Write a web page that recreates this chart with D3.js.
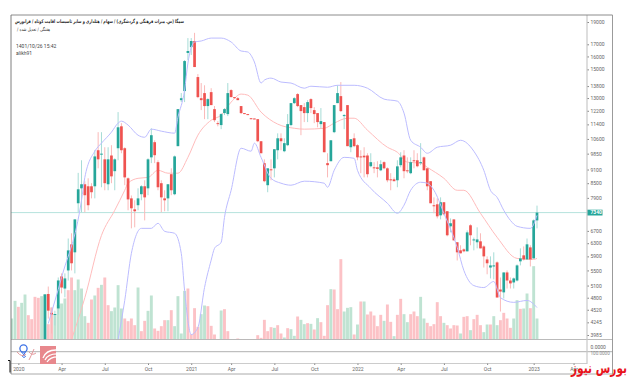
<!DOCTYPE html>
<html>
<head>
<meta charset="utf-8">
<style>
  html, body { margin: 0; padding: 0; background: #fff; }
  svg { display: block; }
  text { font-family: Roboto, sans-serif; }
</style>
<script src="https://cdn.jsdelivr.net/npm/d3@7/dist/d3.min.js"></script>
</head>
<body>
<div id="chart"></div>
<script>
// weekly candles, first visible candle is week 10
const firstCandleWeek = 10;
const opens = [3780,4890,4450,4405,4550,5340,5025,5500,6265,6020,
  7690,8285,8455,8370,8370,8370,10020,9800,9575,8455,
  9760,9025,10120,11290,10120,8710,7880,7460,7615,8045,
  8370,8285,9670,10430,9440,8500,7880,7880,8890,8045,
  10225,12865,13460,16280,16760,17280,14435,12990,13325,12490,
  13390,12300,11470,11360,12060,12000,13525,13060,12990,12490,
  12060,12000,11755,11740,11700,10480,9395,8415,9110,9155,
  10020,10635,9970,10275,11360,12675,13260,12550,12425,12060,
  12930,12240,12060,11415,11530,9395,9485,10965,12675,13125,
  11880,12550,10170,10635,10275,9715,9750,9760,9250,9200,
  9200,9065,9440,9155,8665,8665,8625,9300,9760,9065,
  8935,9530,9530,9395,9670,9155,8585,7615,7650,7240,
  7730,7390,6855,7095,6330,6080,6110,6050,6890,6390,
  6330,6360,6200,5810,5580,5610,5725,5000,4930,5445,
  5230,5180,5230,5755,5930,5810,6170,5840,7060];
const closes = [4880,4500,4415,4425,5232,5050,5285,6078,5700,7095,
  8245,8455,8005,7615,8125,9715,9575,9850,8500,9575,
  8795,9575,11235,10020,8750,7840,7500,7390,7880,8370,
  7920,9575,10800,9775,8330,7920,7805,8455,8205,9715,
  12300,12990,15635,16440,17280,15175,13060,12865,12490,12930,
  12550,11640,11415,12000,12300,13325,13060,12990,12865,12060,
  12000,11940,11700,11700,10480,9870,8585,9155,9065,10070,
  10635,10480,10380,11415,12675,12990,12490,12180,12060,12740,
  12365,12000,11530,11585,9920,9300,10530,12550,13325,12180,
  11940,10225,10585,10225,9670,9670,9670,8890,9440,9155,
  9130,9345,9155,8625,8625,8585,9245,9670,9025,9025,
  9440,9485,9250,9440,9065,8370,7690,7575,7205,7730,
  7280,6555,6960,6390,6020,5990,6050,6650,6555,6420,
  6420,6140,5900,5700,5640,5640,4805,4950,5445,5230,
  5155,5285,5640,5840,5810,6265,5810,7060,7340];
const highs = [4880,5075,4570,4500,5310,5420,5420,6450,6620,7095,
  8950,9530,8580,8710,8500,10020,10965,10965,10170,10170,
  10275,9625,12120,11470,10170,8750,7995,7805,8285,8415,
  8625,9625,11180,10530,9530,8625,8205,8455,9155,9760,
  12300,13325,15715,17535,17535,18000,14650,14010,13855,12990,
  13655,12490,11585,12060,12365,14010,13590,13060,13060,12490,
  12060,12000,11755,11740,11700,10480,9575,9155,9575,10070,
  10900,10900,10635,12000,12675,13060,13325,12550,12675,12865,
  12990,12425,12060,12365,11530,9870,10530,12550,13855,14080,
  12000,12550,10585,10900,10325,10020,10170,9870,9870,9440,
  9485,9530,9485,9200,8935,8750,9530,9920,10020,9670,
  9670,10020,9870,10380,9715,9155,8585,7920,7880,7920,
  7730,7390,7130,7095,6330,6235,6140,6715,6925,6480,
  6820,6620,6235,5900,5900,6020,5755,5310,5445,5500,
  5310,5310,5670,6140,6200,6450,6235,7095,7600];
const lows = [3780,4325,4015,4180,4415,4905,4810,5230,5500,5420,
  7350,7350,7350,7425,7880,7880,9155,8330,8205,8205,
  8500,8205,9530,9870,8415,7425,6785,6820,7425,7805,
  7060,8005,9395,9395,8205,7350,7390,7390,8005,8005,
  10225,12740,12740,15715,16115,15175,12990,12240,11700,11700,
  12550,11530,11290,11130,11940,11880,13060,12990,12865,12000,
  12000,11940,11700,11700,10430,9870,8540,8125,8625,8750,
  9575,10020,9920,10225,11290,12615,12425,10800,11530,11530,
  12060,11470,11235,11180,9920,8750,9485,10910,12675,12120,
  11130,10225,9920,10170,9530,8935,8750,8750,9200,8935,
  8750,9025,9110,8540,8205,8585,8330,9200,8710,8935,
  8890,9155,9200,9300,9065,8205,7690,7315,7130,7095,
  7240,6520,6650,6390,5780,5990,6020,6050,6235,6080,
  6140,6140,5580,5395,5285,5260,4805,4480,4780,5025,
  5025,5025,5205,5640,5780,5810,5610,5840,6785];

const upperWeeks = [11,15,21,22,25,27,30,32,33,35,38,40,42,45,49,50,52,53,55,57,60,63,66,69,71,73,75,76,78,81,84,88,90,95,98,103,107,112,116,118,120,123,125,128,132,135,139,142,144,146,148,150,152,156,158];
const upperBand = [4220,5310,7805,8750,9970,10380,10965,11470,11585,11360,10800,10690,11130,11020,10910,11810,13525,15480,17195,17280,17535,17535,17195,16440,16360,15560,14010,14220,14360,14080,14010,13655,13790,13720,13855,13855,13655,12930,12800,12060,10530,10170,9870,10170,10275,10530,9970,9065,8205,7920,7425,7060,6855,6785,7240];
const middleWeeks = [18,22,27,31,34,35,38,41,44,47,50,53,56,60,63,66,69,71,75,80,85,88,94,97,101,103,107,113,116,119,123,125,130,134,136,141,146,152,157,158];
const middleBand = [3895,4800,6550,7425,8205,8500,8710,8750,9065,8935,8935,9670,10800,11640,11940,12740,13260,13190,12120,11415,11180,11130,11180,11470,11755,11755,11075,10170,9920,9440,9395,9200,8710,8205,8205,7315,6490,5840,5810,5840];
const lowerWeeks = [32,34,36,39,42,44,46,49,51,52,54,56,58,60,61,63,64,66,69,72,73,75,78,81,84,88,94,95,97,100,103,104,108,113,116,118,120,123,125,127,130,134,136,139,142,145,147,151,155,158];
const lowerBand = [3895,4735,5990,6785,6785,6960,6685,6620,5990,4977,3995,4135,5050,5790,6140,6330,7165,8205,10120,9970,10380,9670,8710,8500,8415,8585,8500,8330,9065,9670,9625,9065,8285,7690,7315,7615,8205,8540,8500,8205,7315,6170,5500,5100,5050,5205,4800,4690,4735,4570];

// relative volume, pane units
const volumes = [63,116,98,110,135,73,61,128,125,130,
  136,46,96,76,103,108,123,148,186,148,
  180,153,70,50,120,132,155,164,186,103,
  85,96,163,93,63,55,63,43,156,25,
  56,86,132,33,26,40,58,58,88,40,
  130,18,146,153,16,94,38,76,102,100,
  41,15,1,87,91,25,1,1,3,1,
  1,1,1,1,13,5,59,25,37,35,
  43,18,6,34,31,11,69,59,46,49,
  47,30,64,52,11,103,151,150,91,241,
  84,95,97,15,45,114,114,75,84,72,
  40,74,56,105,53,10,74,122,76,52,
  76,84,70,128,63,50,40,46,112,70,
  50,43,33,43,42,18,68,70,28,61,
  74,43,22,45,45,70,43,58,80,63,
  35,63,118,92,93,138,94,220,63];
const volumeUp = '1101100001100111100111100101001111000010011000010111100001100001001000000000000100101101101010001000111010100000100100110001100000100001001000110110000110110110001';

const priceTicks = [19000,17000,16000,15000,13800,13000,12200,11400,10600,9850,9100,8500,7900,6700,6300,5900,5500,5100,4800,4520,4245,3985];
const lastPrice = 7340;
const monthWeeks = [2,15,28,41,54,66,79,91,104,117,130,143,157,169];
const monthLabels = ['2020','Apr','Jul','Oct','2021','Apr','Jul','Oct','2022','Apr','Jul','Oct','2023','Apr'];

const titleLine1 = 'سمگا (س. میراث فرهنگی و گردشگری) / سهام / هتلداری و سایر تاسیسات اقامت کوتاه / فرابورس';
const titleLine2 = 'هفتگی / تعدیل شده /';
const dateLabel = '1401/10/26 15:42';
const userLabel = 'alikh91';
const brandLabel = 'بورس نیوز';

const width = 630, height = 380;
const paneLeft = 11, paneRight = 587, paneTop = 15, paneBottom = 339.5;

const svg = d3.select('#chart').append('svg')
  .attr('width', width)
  .attr('height', height);

svg.append('defs').append('clipPath')
  .attr('id', 'pane')
  .append('rect')
  .attr('x', paneLeft)
  .attr('y', paneTop)
  .attr('width', paneRight - paneLeft)
  .attr('height', paneBottom - paneTop);

const x = d3.scaleLinear().domain([0, 158]).range([11.7, 537]);
const y = d3.scaleLog().domain([3985, 19000]).range([335, 22]);
const yVol = d3.scaleLinear().domain([0, 300]).range([paneBottom, paneBottom - 100]);

const GREEN = '#26a69a', RED = '#ef5350';

const plot = svg.append('g').attr('clip-path', 'url(#pane)');

// last price line goes under everything
plot.append('line')
  .attr('x1', paneLeft).attr('x2', paneRight)
  .attr('y1', y(lastPrice)).attr('y2', y(lastPrice))
  .attr('stroke', '#b5e3dd').attr('stroke-width', 1);

plot.selectAll('.vol')
  .data(volumes)
  .enter()
  .append('rect')
  .attr('class', 'vol')
  .attr('x', (d, i) => x(i) - 1.45)
  .attr('width', 2.9)
  .attr('y', d => yVol(d))
  .attr('height', d => paneBottom - yVol(d))
  .attr('fill', (d, i) => volumeUp[i] === '1' ? '#bfe3d2' : '#fcc2c6');

const candles = opens.map((o, i) => ({
  week: i + firstCandleWeek,
  open: o,
  close: closes[i],
  high: highs[i],
  low: lows[i]
}));

const lineFor = weeks => d3.line()
  .x((d, i) => x(weeks[i]))
  .y(d => y(d))
  .curve(d3.curveMonotoneX);

plot.append('path')
  .attr('d', lineFor(middleWeeks)(middleBand))
  .attr('fill', 'none').attr('stroke', '#ffbcbc').attr('stroke-width', 1);

plot.selectAll('.wick')
  .data(candles)
  .enter()
  .append('line')
  .attr('class', 'wick')
  .attr('x1', d => x(d.week)).attr('x2', d => x(d.week))
  .attr('y1', d => y(d.high)).attr('y2', d => y(d.low))
  .attr('stroke', d => d.close >= d.open ? '#a6dcd6' : '#fab9b8')
  .attr('stroke-width', 1);

plot.selectAll('.body')
  .data(candles)
  .enter()
  .append('rect')
  .attr('class', 'body')
  .attr('x', d => x(d.week) - 1.35)
  .attr('width', 2.7)
  .attr('y', d => y(Math.max(d.open, d.close)))
  .attr('height', d => Math.max(1, Math.abs(y(d.open) - y(d.close))))
  .attr('fill', d => d.close >= d.open ? GREEN : RED);

plot.append('path')
  .attr('d', lineFor(upperWeeks)(upperBand))
  .attr('fill', 'none').attr('stroke', '#bcbcff').attr('stroke-width', 1);

plot.append('path')
  .attr('d', lineFor(lowerWeeks)(lowerBand))
  .attr('fill', 'none').attr('stroke', '#bcbcff').attr('stroke-width', 1);

// price axis
const priceAxis = svg.append('g')
  .attr('transform', `translate(${paneRight},0)`)
  .call(d3.axisRight(y).tickValues(priceTicks).tickFormat(d3.format('d')).tickSize(2).tickPadding(1.5));
priceAxis.select('.domain').remove();
priceAxis.selectAll('line').attr('stroke', '#888');
priceAxis.selectAll('text').attr('font-size', 5).attr('fill', '#666');

svg.append('rect')
  .attr('x', paneRight).attr('y', y(lastPrice) - 2.9)
  .attr('width', 15.5).attr('height', 5.8)
  .attr('fill', GREEN);
svg.append('text')
  .attr('x', paneRight + 3.5).attr('y', y(lastPrice) + 1.8)
  .attr('font-size', 5).attr('font-weight', 700).attr('fill', '#fff').text(lastPrice);

// lower panes
const rule = (x1, y1, x2, y2, color, w) => svg.append('line')
  .attr('x1', x1).attr('y1', y1).attr('x2', x2).attr('y2', y2)
  .attr('stroke', color).attr('stroke-width', w);

rule(paneLeft, 339.5, 612.5, 339.5, '#aaa', 0.8);
rule(paneLeft, 351.7, 612.5, 351.7, '#b0b0b0', 1);
rule(paneLeft, 363.5, 587, 363.5, '#ccc', 1);
rule(paneRight, paneTop, paneRight, 364, '#c8c8c8', 1.2);
rule(paneLeft, 15, 612.5, 15, '#808080', 0.9);
rule(paneLeft, 15, paneLeft, 374, '#707070', 0.9);
rule(612.5, 15, 612.5, 374, '#909090', 0.9);
rule(paneLeft, 374, 612.5, 374, '#a0a0a0', 0.9);

svg.append('path')
  .attr('d', 'M8,360.5H10V372.5')
  .attr('fill', 'none').attr('stroke', '#111').attr('stroke-width', 1);

svg.append('text').attr('x', paneRight + 3.5).attr('y', 348.5)
  .attr('font-size', 5).attr('fill', '#666').text('0.0000');
svg.append('text').attr('x', paneRight + 3.5).attr('y', 354.5)
  .attr('font-size', 4.6).attr('fill', '#888').text('100.0000');

// time axis
const timeAxis = svg.append('g')
  .attr('transform', 'translate(0,363.5)')
  .call(d3.axisBottom(x)
    .tickValues(monthWeeks)
    .tickFormat((d, i) => monthLabels[i])
    .tickSize(1.5)
    .tickPadding(2));
timeAxis.select('.domain').remove();
timeAxis.selectAll('line').attr('stroke', '#888');
timeAxis.selectAll('text').attr('font-size', 5).attr('fill', '#666');

// title block, in rtl the start of the text is its right edge
svg.append('text')
  .attr('x', 184).attr('y', 23)
  .attr('text-anchor', 'start').attr('direction', 'rtl')
  .attr('font-size', 5).attr('font-weight', 700).attr('fill', '#222')
  .style('font-family', '"DejaVu Sans", sans-serif')
  .attr('textLength', 169).attr('lengthAdjust', 'spacingAndGlyphs')
  .text(titleLine1);
svg.append('text')
  .attr('x', 50).attr('y', 31)
  .attr('text-anchor', 'start').attr('direction', 'rtl')
  .attr('font-size', 4.8).attr('fill', '#333')
  .style('font-family', '"DejaVu Sans", sans-serif')
  .attr('textLength', 33).attr('lengthAdjust', 'spacingAndGlyphs')
  .text(titleLine2);
svg.append('text').attr('x', 16).attr('y', 47.5)
  .attr('font-size', 5).attr('fill', '#444').text(dateLabel);
svg.append('text').attr('x', 16).attr('y', 55)
  .attr('font-size', 5).attr('fill', '#444').text(userLabel);

// watermark logos
const logo = svg.append('g');
logo.append('circle')
  .attr('cx', 23.5).attr('cy', 348.5).attr('r', 3.6)
  .attr('fill', 'none').attr('stroke', '#3d72e6').attr('stroke-width', 1.3);
logo.append('path')
  .attr('d', 'M21.5,352L25.5,356.5Q24,358.5 22.5,356.5L25.5,352')
  .attr('fill', 'none').attr('stroke', '#3d72e6').attr('stroke-width', 1);
logo.append('path')
  .attr('d', 'M17,352Q22,358 26,354M29,352Q32,356 36,353M34,349Q31,356 29,360')
  .attr('fill', 'none').attr('stroke', '#e39a9e').attr('stroke-width', 1);
logo.append('rect')
  .attr('x', 40).attr('y', 346).attr('width', 16).attr('height', 18)
  .attr('fill', '#e8888d');
logo.append('path')
  .attr('d', 'M45,360Q48,353 60,354M47,362Q51,356 60,357M43,358Q46,350 56,350')
  .attr('fill', 'none').attr('stroke', '#fff').attr('stroke-width', 1.3);

svg.append('text')
  .attr('x', 627).attr('y', 373)
  .attr('text-anchor', 'start').attr('direction', 'rtl')
  .attr('font-size', 15).attr('font-weight', 700).attr('fill', '#e8141c')
  .style('font-family', '"DejaVu Sans", sans-serif')
  .attr('textLength', 56).attr('lengthAdjust', 'spacingAndGlyphs')
  .text(brandLabel);
</script>
</body>
</html>
